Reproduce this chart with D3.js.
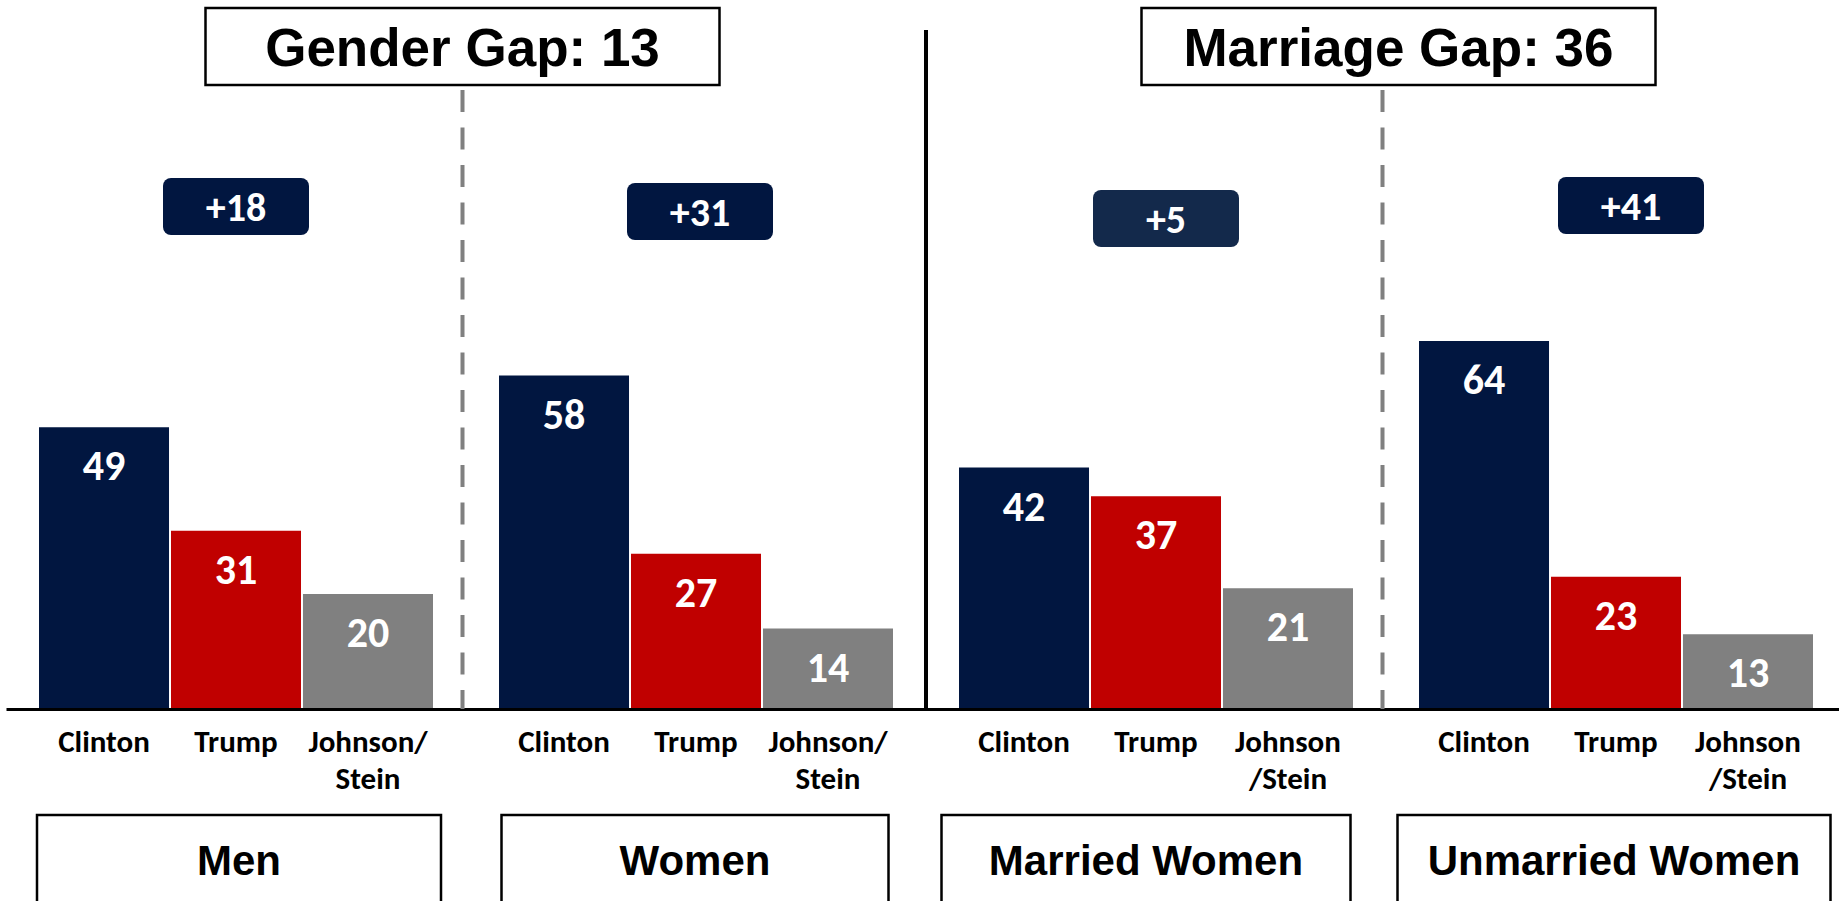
<!DOCTYPE html>
<html>
<head>
<meta charset="utf-8">
<script src="https://cdn.jsdelivr.net/npm/d3@7"></script>
<style>
  html, body { margin: 0; padding: 0; background: #fff; overflow: hidden; }
  svg { display: block; }
</style>
</head>
<body>
<svg id="chart" width="1839" height="901"></svg>
<script>
// ---- data ----
const groups = ["Men", "Women", "Married Women", "Unmarried Women"];
const candidates = ["Clinton", "Trump", "Johnson/Stein"];
const clintonShare = [49, 58, 42, 64];
const trumpShare = [31, 27, 37, 23];
const thirdPartyShare = [20, 14, 21, 13];
const tickLabels = [
  [["Clinton"], ["Trump"], ["Johnson/", "Stein"]],
  [["Clinton"], ["Trump"], ["Johnson/", "Stein"]],
  [["Clinton"], ["Trump"], ["Johnson", "/Stein"]],
  [["Clinton"], ["Trump"], ["Johnson", "/Stein"]]
];
const gapNames = ["Gender Gap", "Marriage Gap"];
const gapPairs = [[0, 1], [2, 3]];

// ---- styling / layout ----
const colors = { Clinton: "#011640", Trump: "#C00000", "Johnson/Stein": "#808080" };
const badgeFill = ["#011640", "#011640", "#13294B", "#011640"];
const badgeTop = [178, 183, 190, 177];
const badgeNudge = [0, 4, 10, 15];
const boxWidth = [404, 387, 409, 433];
const boxNudge = [3, -1, -10, -2];
const gapBoxNudge = [-3.5, 12.5];
const dividerNudge = -3.5;
const labelFont = "Carlito, 'Open Sans', sans-serif";
const titleFont = "'Liberation Sans', Arial, sans-serif";

const shares = groups.map((g, i) => [clintonShare[i], trumpShare[i], thirdPartyShare[i]]);
const margins = groups.map((g, i) => clintonShare[i] - trumpShare[i]);

const svg = d3.select("#chart");

const x0 = d3.scaleBand().domain(groups).range([6, 1846])
  .paddingInner(0.1435).paddingOuter(0.07175);
const x1 = d3.scaleBand().domain(candidates).range([0, x0.bandwidth()])
  .paddingInner(0.015).paddingOuter(0);
const y = d3.scaleLinear().domain([0, 100]).range([709, 134]);

const groupCenter = g => x0(g) + x0.bandwidth() / 2;
const between = i => (x0(groups[i]) + x0.bandwidth() + x0(groups[i + 1])) / 2;

// ---- bars ----
const gSel = svg.selectAll("g.group").data(groups).join("g")
  .attr("class", "group")
  .attr("transform", g => `translate(${x0(g)},0)`);

gSel.selectAll("rect.bar")
  .data((g, i) => candidates.map((c, j) => ({ c, v: shares[i][j] })))
  .join("rect")
  .attr("class", "bar")
  .attr("x", d => x1(d.c))
  .attr("width", x1.bandwidth())
  .attr("y", d => y(d.v))
  .attr("height", d => y(0) - y(d.v))
  .attr("fill", d => colors[d.c]);

gSel.selectAll("text.value")
  .data((g, i) => candidates.map((c, j) => ({ c, v: shares[i][j] })))
  .join("text")
  .attr("class", "value")
  .attr("x", d => x1(d.c) + x1.bandwidth() / 2)
  .attr("y", d => y(d.v) + 53)
  .attr("text-anchor", "middle")
  .attr("fill", "#fff")
  .style("font-family", labelFont)
  .style("font-weight", 700)
  .style("font-size", "42px")
  .text(d => d.v);

// ---- category labels ----
gSel.each(function (g, i) {
  const sel = d3.select(this);
  candidates.forEach((c, j) => {
    const cx = x1(c) + x1.bandwidth() / 2;
    const t = sel.append("text")
      .attr("x", cx)
      .attr("y", 752)
      .attr("text-anchor", "middle")
      .attr("fill", "#000")
      .style("font-family", labelFont)
      .style("font-weight", 700)
      .style("font-size", "31px");
    tickLabels[i][j].forEach((line, k) => {
      t.append("tspan").attr("x", cx)
        .attr("dy", k === 0 ? 0 : 37).text(line);
    });
  });
});

// ---- baseline axis ----
const axis = svg.append("g")
  .attr("transform", `translate(0,${y(0)})`)
  .call(d3.axisBottom(x0).tickValues([]).tickSizeOuter(0));
axis.select(".domain").attr("stroke", "#000").attr("stroke-width", 3);

// ---- separators ----
[0, 2].forEach(i => {
  const sx = between(i) + dividerNudge;
  svg.append("line")
    .attr("x1", sx).attr("x2", sx)
    .attr("y1", 90).attr("y2", y(0))
    .attr("stroke", "#808080").attr("stroke-width", 4)
    .attr("stroke-dasharray", "22,15.5");
});
svg.append("line")
  .attr("x1", between(1)).attr("x2", between(1))
  .attr("y1", 30).attr("y2", y(0))
  .attr("stroke", "#000").attr("stroke-width", 4);

// ---- gap title boxes ----
gapPairs.forEach((p, k) => {
  const cx = between(p[0]) + gapBoxNudge[k];
  const gap = margins[p[1]] - margins[p[0]];
  svg.append("rect")
    .attr("x", cx - 257).attr("y", 8)
    .attr("width", 514).attr("height", 77)
    .attr("fill", "#fff").attr("stroke", "#000").attr("stroke-width", 2.5);
  svg.append("text")
    .attr("x", cx).attr("y", 66)
    .attr("text-anchor", "middle")
    .style("font-family", titleFont)
    .style("font-weight", 700)
    .style("font-size", "53px")
    .text(`${gapNames[k]}: ${gap}`);
});

// ---- margin badges ----
groups.forEach((g, i) => {
  const cx = groupCenter(g) + badgeNudge[i];
  svg.append("rect")
    .attr("x", cx - 73).attr("y", badgeTop[i])
    .attr("width", 146).attr("height", 57)
    .attr("rx", 8).attr("ry", 8)
    .attr("fill", badgeFill[i]);
  svg.append("text")
    .attr("x", cx).attr("y", badgeTop[i] + 28.5)
    .attr("dy", "0.35em")
    .attr("text-anchor", "middle")
    .attr("fill", "#fff")
    .style("font-family", labelFont)
    .style("font-weight", 700)
    .style("font-size", "40px")
    .text("+" + margins[i]);
});

// ---- group name boxes ----
groups.forEach((g, i) => {
  const cx = groupCenter(g) + boxNudge[i];
  svg.append("rect")
    .attr("x", cx - boxWidth[i] / 2).attr("y", 815)
    .attr("width", boxWidth[i]).attr("height", 130)
    .attr("fill", "#fff").attr("stroke", "#000").attr("stroke-width", 2.5);
  svg.append("text")
    .attr("x", cx).attr("y", 875)
    .attr("text-anchor", "middle")
    .style("font-family", titleFont)
    .style("font-weight", 700)
    .style("font-size", "42px")
    .text(g);
});
</script>
</body>
</html>
